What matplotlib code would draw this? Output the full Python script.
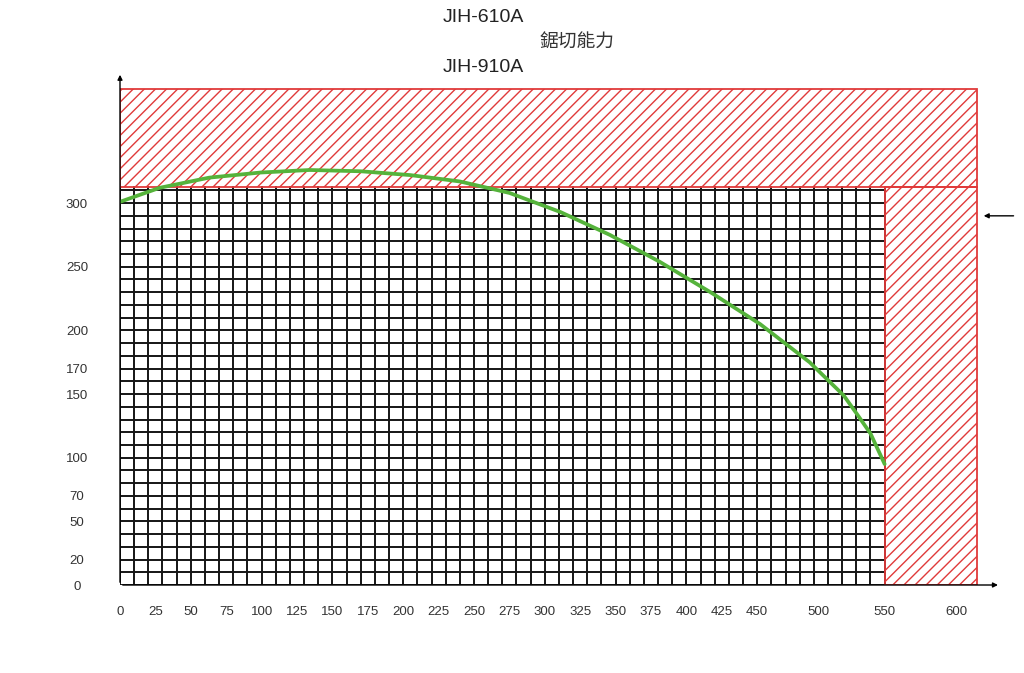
import numpy as np
import matplotlib.pyplot as plt
from matplotlib.patches import Rectangle

plt.rcParams['font.family'] = ['Liberation Sans', 'Noto Sans CJK TC']
plt.rcParams['hatch.linewidth'] = 1.0
plt.rcParams['hatch.color'] = '#e03a3a'

# cutting capacity curve (width, height)
curve_x = [0, 28, 63, 99, 134, 170, 205, 240, 275, 311, 346, 381, 417, 452, 487, 499, 511, 520, 530, 540]
curve_y = [301, 312, 320, 324, 326, 325, 322, 317, 308, 293, 275, 254, 230, 205, 175, 162, 149, 135, 119, 95]

# axis labels as printed on the sheet
x_labels = ['0', '25', '50', '75', '100', '125', '150', '175', '200', '225', '250',
            '275', '300', '325', '350', '375', '400', '425', '450', '500', '550', '600']
x_label_pos = [0, 25, 50, 75, 100, 125, 150, 175, 200, 225, 250,
               275, 300, 325, 350, 375, 400, 425, 450, 493, 540, 591]
y_labels = ['0', '20', '50', '70', '100', '150', '170', '200', '250', '300']
y_label_pos = [0, 20, 50, 70, 100, 150, 170, 200, 250, 300]

grid_w, grid_h = 540, 313
outer_w, outer_h = 605, 390
stop_y = 290

fig = plt.figure(figsize=(10.24, 6.73), dpi=100)
ax = fig.add_axes([120 / 1024, 88 / 673, 904 / 1024, 585 / 673])
ax.set_xlim(0, 904 / 1.416)
ax.set_ylim(0, 585 / 1.273)
for s in ax.spines.values():
    s.set_visible(False)

# black grid, 10 x 10 cells
for gx in np.arange(0, grid_w + 1, 10):
    ax.plot([gx, gx], [0, grid_h], color='#151515', lw=1.4, zorder=2)
for gy in np.arange(0, grid_h, 10):
    ax.plot([0, grid_w], [gy, gy], color='#151515', lw=1.4, zorder=2)

# hatched out-of-range areas
red = '#e03a3a'
ax.add_patch(Rectangle((0, grid_h), outer_w, outer_h - grid_h, facecolor='none',
                       edgecolor=red, hatch='///', lw=1.3, zorder=3))
ax.add_patch(Rectangle((grid_w, 0), outer_w - grid_w, grid_h, facecolor='none',
                       edgecolor=red, hatch='///', lw=1.3, zorder=3))

ax.plot(curve_x, curve_y, color='#55b33b', lw=2.7, zorder=4,
        solid_joinstyle='round', solid_capstyle='round')

# axes arrows
ax.annotate('', xy=(622, 0), xytext=(0, 0),
            arrowprops=dict(arrowstyle='-|>', color='k', lw=1.0, mutation_scale=7), zorder=5)
ax.annotate('', xy=(0, 403), xytext=(0, 0),
            arrowprops=dict(arrowstyle='-|>', color='k', lw=1.0, mutation_scale=7), zorder=5)
ax.annotate('', xy=(608, stop_y), xytext=(633, stop_y),
            arrowprops=dict(arrowstyle='-|>', color='k', lw=1.0, mutation_scale=7))

ax.set_xticks(x_label_pos)
ax.set_xticklabels(x_labels)
ax.set_yticks(y_label_pos)
ax.set_yticklabels(y_labels, ha='center')
ax.tick_params(axis='both', length=0, labelsize=9.5, labelcolor='#333333')
ax.tick_params(axis='x', pad=15)
ax.tick_params(axis='y', pad=31)

fig.text(483 / 1024, 1 - 17 / 673, 'JIH-610A', ha='center', va='center', fontsize=14, color='#222222')
fig.text(577 / 1024, 1 - 43 / 673, '鋸切能力', ha='center', va='center', fontsize=13.5, color='#333333')
fig.text(483 / 1024, 1 - 68 / 673, 'JIH-910A', ha='center', va='center', fontsize=14, color='#222222')

fig.savefig('out.png', dpi=100, facecolor='white')
